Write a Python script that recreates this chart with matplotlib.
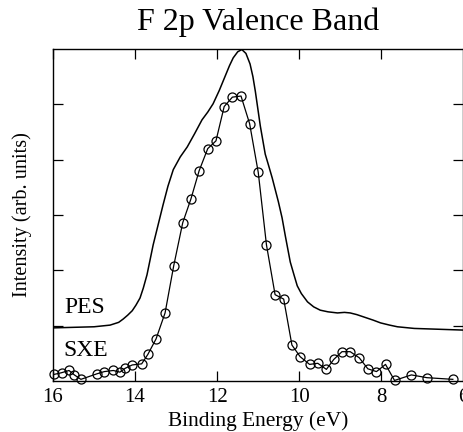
import numpy as np
import matplotlib.pyplot as plt

plt.rcParams['font.family'] = ['Liberation Serif', 'DejaVu Serif']

# PES curve (binding energy in eV, intensity in arb. units)
pes_energy = [16.0, 15.5, 15.0, 14.61, 14.40, 14.29, 14.18, 14.07, 13.98, 13.88,
              13.80, 13.71, 13.56, 13.44, 13.32, 13.20, 13.07, 12.90, 12.73, 12.55,
              12.37, 12.23, 12.10, 11.95, 11.80, 11.70, 11.61, 11.50, 11.40, 11.30,
              11.20, 11.13, 11.07, 10.95, 10.83, 10.75, 10.66, 10.51, 10.42, 10.34,
              10.22, 10.13, 10.05, 9.95, 9.80, 9.65, 9.49, 9.30, 9.07, 8.90,
              8.76, 8.60, 8.44, 8.20, 8.02, 7.80, 7.61, 7.20, 6.80, 6.0]
pes_intensity = [0.96, 0.97, 0.98, 1.01, 1.06, 1.12, 1.19, 1.27, 1.37, 1.50,
                 1.68, 1.92, 2.46, 2.82, 3.18, 3.52, 3.82, 4.05, 4.23, 4.47,
                 4.72, 4.86, 5.01, 5.25, 5.52, 5.70, 5.84, 5.95, 5.99, 5.92,
                 5.73, 5.50, 5.23, 4.61, 4.10, 3.90, 3.67, 3.24, 2.95, 2.62,
                 2.15, 1.92, 1.72, 1.58, 1.43, 1.34, 1.28, 1.25, 1.23, 1.24,
                 1.23, 1.20, 1.16, 1.10, 1.05, 1.01, 0.98, 0.95, 0.94, 0.92]

# SXE data points
sxe_energy = [15.97, 15.79, 15.61, 15.48, 15.32, 14.93, 14.75, 14.53, 14.37, 14.24,
              14.07, 13.84, 13.69, 13.49, 13.27, 13.06, 12.84, 12.64, 12.44, 12.23,
              12.03, 11.83, 11.63, 11.42, 11.21, 11.00, 10.80, 10.59, 10.38, 10.18,
              9.98, 9.75, 9.55, 9.34, 9.16, 8.96, 8.76, 8.54, 8.33, 8.12,
              7.90, 7.68, 7.27, 6.89, 6.26]
sxe_intensity = [0.12, 0.15, 0.19, 0.11, 0.03, 0.13, 0.17, 0.19, 0.16, 0.23,
                 0.29, 0.31, 0.48, 0.76, 1.23, 2.08, 2.86, 3.29, 3.80, 4.20,
                 4.34, 4.96, 5.13, 5.15, 4.65, 3.77, 2.46, 1.56, 1.48, 0.65,
                 0.44, 0.30, 0.32, 0.21, 0.39, 0.53, 0.53, 0.42, 0.22, 0.17,
                 0.30, 0.01, 0.11, 0.06, 0.03]

xticks = [16, 14, 12, 10, 8, 6]
yticks = [1, 2, 3, 4, 5]

fig = plt.figure(figsize=(4.64, 4.32), dpi=100)
ax = fig.add_axes([53/464, 1 - 381/432, 410.5/464, 332/432])

ax.plot(pes_energy, pes_intensity, color='black', lw=1.1)
ax.plot(sxe_energy, sxe_intensity, color='black', lw=0.9, marker='o',
        markersize=6.5, markerfacecolor='none', markeredgecolor='black',
        markeredgewidth=0.9, clip_on=False, zorder=3)

ax.text(15.73, 1.22, 'PES', fontsize=17)
ax.text(15.75, 0.46, 'SXE', fontsize=17)

ax.set_xlim(16, 6)
ax.set_ylim(0, 6)
ax.set_xticks(xticks)
ax.set_yticks(yticks)
ax.set_yticklabels([])
ax.tick_params(direction='in', length=7, width=0.9, top=True, right=True,
               labelsize=15, pad=5)
for s in ax.spines.values():
    s.set_linewidth(1.0)

ax.set_title('F 2p Valence Band', fontsize=23, pad=14)
ax.set_xlabel('Binding Energy (eV)', fontsize=15.4, labelpad=3)
ax.set_ylabel('Intensity (arb. units)', fontsize=14.6, labelpad=10)

fig.savefig('out.png', dpi=100)
